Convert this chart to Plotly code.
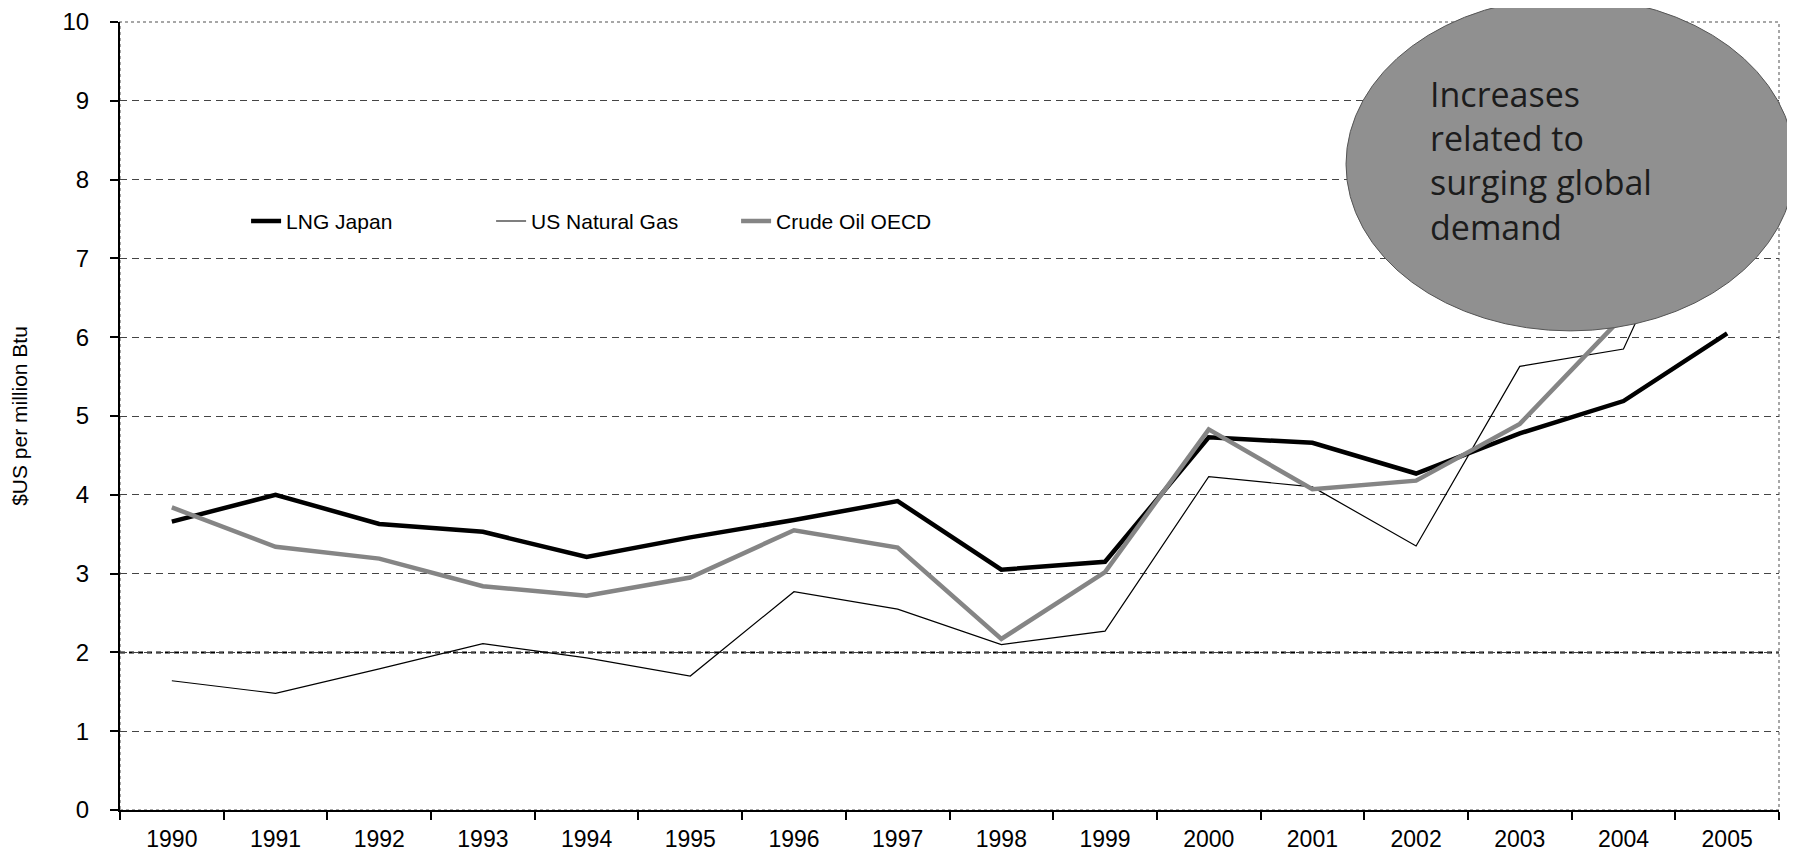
import plotly.graph_objects as go

# values ($US per million Btu)
years = [str(y) for y in range(1990, 2006)]
lng_japan = [3.66, 4.00, 3.63, 3.53, 3.21, 3.46, 3.68, 3.92, 3.05, 3.15, 4.73, 4.66, 4.27, 4.78, 5.19, 6.05]
us_natural_gas = [1.64, 1.48, 1.79, 2.11, 1.93, 1.70, 2.77, 2.55, 2.10, 2.27, 4.23, 4.10, 3.35, 5.63, 5.85, 8.70]
crude_oil_oecd = [3.84, 3.34, 3.19, 2.84, 2.72, 2.95, 3.55, 3.33, 2.17, 3.02, 4.83, 4.07, 4.18, 4.90, 6.27, 8.74]

y_ticks = list(range(0, 11))
callout = "Increases<br>related to<br>surging global<br>demand"

FONT = "Liberation Sans, Arial, sans-serif"

fig = go.Figure()

fig.add_trace(go.Scatter(x=years, y=lng_japan, name="LNG Japan", mode="lines",
                         line=dict(color="black", width=4.5)))
fig.add_trace(go.Scatter(x=years, y=us_natural_gas, name="US Natural Gas", mode="lines",
                         line=dict(color="black", width=1.2)))
fig.add_trace(go.Scatter(x=years, y=crude_oil_oecd, name="Crude Oil OECD", mode="lines",
                         line=dict(color="#858585", width=4.5)))

# dotted plot-area border (top/right)
fig.add_shape(type="rect", xref="x domain", yref="y domain", x0=0, x1=1, y0=0, y1=1,
              line=dict(color="#8a8a8a", width=1.5, dash="dot"), layer="below")
# heavier gridline at 2
fig.add_hline(y=2, line=dict(color="black", width=2, dash="5px,4px"), layer="below")

# callout bubble
fig.add_shape(type="circle", xref="paper", yref="paper",
              x0=0.739, x1=1.0095, y0=0.608, y1=1.031,
              fillcolor="#909090", line=dict(color="#555555", width=1), layer="above")
fig.add_annotation(text=callout, xref="paper", yref="paper", x=0.7885, y=0.824,
                   xanchor="left", yanchor="middle", align="left", showarrow=False,
                   font=dict(family="Open Sans, sans-serif", size=34, color="#1c1c1c"))

# page body adds an 8px offset, so the figure is 8px smaller than the window
fig.update_layout(
    width=1787, height=848,
    margin=dict(l=112, r=16, t=14, b=46),
    plot_bgcolor="white", paper_bgcolor="white",
    font=dict(family=FONT, color="black"),
    showlegend=True,
    legend=dict(orientation="h", x=0.076, y=0.747, xanchor="left", yanchor="middle",
                bgcolor="rgba(0,0,0,0)", font=dict(size=21), entrywidth=200),
    xaxis=dict(type="category", categoryarray=years, range=[-0.5, 15.5],
               tickson="boundaries", automargin=False,
               ticks="outside", ticklen=8, tickwidth=1.5, tickcolor="black",
               showline=True, linecolor="black", linewidth=2, showgrid=False,
               tickfont=dict(size=23), ticklabelstandoff=7),
    yaxis=dict(range=[0, 10], tickvals=y_ticks, ticks="outside", ticklen=8,
               automargin=False,
               tickwidth=1.5, tickcolor="black", showline=True, linecolor="black",
               linewidth=2, zeroline=False, showgrid=True, gridcolor="#444444",
               gridwidth=1, griddash="7px,5px", tickfont=dict(size=24),
               ticklabelstandoff=16,
               title=dict(text="$US per million Btu", font=dict(size=21), standoff=29)),
)

fig.write_html("out.html")
